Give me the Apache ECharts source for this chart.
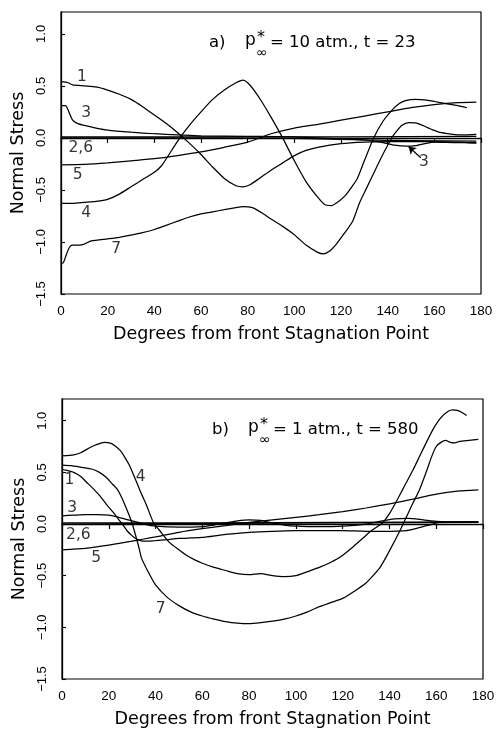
<!DOCTYPE html>
<html>
<head>
<meta charset="utf-8">
<script src="https://cdn.jsdelivr.net/npm/echarts@6/dist/echarts.min.js"></script>
<style>
html,body{margin:0;padding:0;background:#fff;}
#chart{width:502px;height:729px;}
</style>
</head>
<body>
<div id="chart"></div>
<script>
// ---------- Data: panel a) p*∞ = 10 atm., t = 23 ----------
const xTicks = [0, 20, 40, 60, 80, 100, 120, 140, 160, 180];
const yTicks = [-1.5, -1.0, -0.5, 0.0, 0.5, 1.0];

const a1 = [[0,0.54],[3,0.53],[5,0.51],[10,0.5],[15,0.49],[20,0.46],[25,0.42],[30,0.37],[35,0.3],[40,0.22],[45,0.14],[50,0.05],[55,-0.05],[60,-0.16],[65,-0.28],[70,-0.39],[75,-0.46],[78,-0.47],[81,-0.45],[85,-0.39],[90,-0.31],[95,-0.24],[100,-0.17],[105,-0.12],[110,-0.09],[120,-0.055],[130,-0.04],[140,-0.035],[150,-0.035],[160,-0.035],[170,-0.04],[178,-0.05]];
const a2 = [[0,0.01],[60,0.01],[120,0.01],[178,0.015]];
const a3 = [[0,0.31],[2,0.31],[3,0.27],[5,0.17],[7,0.14],[10,0.12],[15,0.095],[20,0.075],[30,0.055],[40,0.04],[50,0.03],[60,0.02],[80,0.015],[100,0.01],[120,-0.01],[130,-0.02],[138,-0.045],[143,-0.07],[148,-0.08],[152,-0.075],[156,-0.055],[160,-0.04],[170,-0.045],[178,-0.045]];
const a4 = [[0,-0.63],[5,-0.63],[10,-0.62],[15,-0.61],[20,-0.59],[25,-0.54],[30,-0.47],[35,-0.4],[40,-0.33],[43,-0.27],[46,-0.17],[50,-0.03],[55,0.12],[60,0.25],[65,0.37],[70,0.46],[75,0.53],[78,0.555],[80,0.53],[83,0.45],[86,0.35],[90,0.2],[95,0.0],[100,-0.22],[105,-0.42],[110,-0.57],[113,-0.64],[116,-0.65],[119,-0.61],[122,-0.55],[124,-0.49],[127,-0.39],[130,-0.22],[134,0.0],[138,0.16],[142,0.27],[145,0.33],[148,0.36],[152,0.37],[156,0.365],[160,0.35],[165,0.33],[170,0.31],[174,0.29]];
const a5 = [[0,-0.26],[10,-0.255],[20,-0.24],[30,-0.22],[40,-0.2],[50,-0.17],[60,-0.135],[70,-0.09],[80,-0.04],[90,0.04],[100,0.095],[110,0.13],[120,0.17],[130,0.21],[140,0.25],[150,0.29],[160,0.32],[170,0.34],[178,0.345]];
const a6 = [[0,0.0],[60,0.0],[100,-0.005],[130,-0.02],[150,-0.025],[178,-0.03]];
const a7 = [[0,-1.21],[1,-1.2],[2,-1.14],[3,-1.08],[4,-1.04],[5,-1.03],[8,-1.03],[10,-1.02],[13,-0.99],[20,-0.97],[25,-0.955],[30,-0.935],[35,-0.91],[40,-0.88],[45,-0.84],[50,-0.8],[55,-0.76],[60,-0.73],[65,-0.71],[70,-0.69],[75,-0.67],[78,-0.66],[82,-0.67],[86,-0.72],[90,-0.78],[95,-0.85],[100,-0.93],[105,-1.03],[110,-1.1],[112.5,-1.115],[115,-1.09],[118,-1.02],[121,-0.93],[125,-0.8],[128,-0.62],[131,-0.48],[134,-0.34],[137,-0.2],[140,-0.07],[142,0.01],[144,0.07],[146,0.12],[149,0.148],[152,0.145],[155,0.12],[159,0.08],[163,0.05],[168,0.035],[172,0.03],[178,0.035]];

// ---------- Data: panel b) p*∞ = 1 atm., t = 580 ----------
const b1 = [[0,0.53],[2,0.52],[5,0.5],[8,0.46],[10.7,0.4],[13,0.35],[16.3,0.27],[19,0.19],[22,0.11],[24,0.05],[26.3,-0.016],[28,-0.07],[29.8,-0.11],[31.5,-0.14],[33.4,-0.16],[36,-0.165],[40,-0.16],[45,-0.15],[50,-0.14],[55,-0.135],[60,-0.13],[70,-0.1],[80,-0.08],[90,-0.07],[100,-0.065],[110,-0.065],[120,-0.065],[130,-0.07],[140,-0.07],[147,-0.065],[152,-0.04],[157,-0.01],[161,0.015],[165,0.02],[170,0.02],[178,0.02]];
const b2 = [[0,0.01],[60,0.012],[120,0.016],[178,0.02]];
const b3 = [[0,0.08],[5,0.085],[10,0.09],[15,0.09],[20,0.085],[25,0.06],[30,0.03],[35,0.0],[40,-0.02],[50,-0.03],[60,-0.025],[65,-0.01],[70,0.01],[75,0.03],[80,0.04],[85,0.035],[90,0.01],[95,-0.01],[100,-0.02],[110,-0.025],[120,-0.02],[130,0.0],[137,0.03],[142,0.05],[148,0.055],[153,0.045],[158,0.03],[165,0.02],[178,0.02]];
const b4 = [[0,0.66],[5,0.67],[8,0.69],[12,0.74],[15,0.77],[18,0.79],[21,0.78],[23,0.75],[25,0.71],[27,0.64],[29,0.56],[32,0.4],[34,0.29],[36,0.19],[39,0.02],[42,-0.07],[46,-0.18],[50,-0.25],[53,-0.3],[57,-0.35],[60,-0.38],[65,-0.42],[70,-0.45],[75,-0.48],[80,-0.49],[85,-0.48],[90,-0.5],[95,-0.51],[100,-0.5],[105,-0.46],[110,-0.42],[115,-0.37],[119,-0.32],[124,-0.23],[128,-0.15],[132,-0.07],[137,0.01],[140,0.1],[143,0.22],[146,0.35],[150,0.52],[153,0.66],[156,0.8],[159,0.93],[162,1.03],[165,1.09],[167,1.105],[169,1.1],[171,1.08],[173,1.05]];
const b5 = [[0,-0.25],[10,-0.235],[20,-0.205],[25,-0.185],[30,-0.165],[35,-0.145],[40,-0.125],[50,-0.08],[60,-0.045],[70,-0.015],[80,0.015],[90,0.04],[100,0.065],[110,0.09],[120,0.12],[130,0.155],[140,0.195],[150,0.24],[160,0.29],[170,0.32],[178,0.33]];
const b6 = [[0,0.0],[60,0.005],[120,0.01],[178,0.015]];
const b7 = [[0,0.57],[4,0.565],[8,0.55],[13,0.53],[16,0.5],[19,0.45],[21,0.4],[23.5,0.34],[25,0.28],[27,0.18],[29.8,0.02],[32.7,-0.21],[34,-0.33],[37,-0.47],[40,-0.59],[45,-0.71],[50,-0.79],[55,-0.85],[60,-0.89],[65,-0.92],[70,-0.945],[75,-0.96],[80,-0.965],[85,-0.955],[90,-0.94],[95,-0.92],[100,-0.89],[105,-0.85],[110,-0.8],[115,-0.76],[120,-0.72],[125,-0.65],[130,-0.57],[133,-0.5],[136,-0.42],[140,-0.26],[145,-0.04],[150,0.2],[153,0.34],[156,0.52],[158,0.65],[160,0.75],[162,0.79],[164,0.81],[166,0.79],[168,0.785],[170,0.8],[174,0.81],[178,0.82]];

// ---------- Curve labels (text, degree, stress) ----------
const labelsA = [['1',9,0.59],['3',10.8,0.24],['2,6',8.5,-0.1],['5',7.1,-0.36],['4',10.8,-0.72],['7',23.7,-1.07],['3',155.5,-0.23]];
const labelsB = [['4',33.6,0.46],['1',3.2,0.43],['3',4.3,0.16],['2,6',7,-0.11],['5',14.6,-0.33],['7',42.2,-0.82]];
const arrowA = [[154.2,-0.19],[149,-0.085]];

const titleA = {lead:'a)', rest:'= 10 atm., t = 23'};
const titleB = {lead:'b)', rest:'= 1 atm., t = 580'};
const xName = 'Degrees from front Stagnation Point';
const yName = 'Normal Stress';

// ---------- Build ----------
const chart = echarts.init(document.getElementById('chart'), null, {renderer:'canvas'});
const INK = '#000';
const tickFont = '"Liberation Sans Narrow","Liberation Sans",sans-serif';
const textFont = '"DejaVu Sans",sans-serif';

function yFmt(v){
  const r = Math.round(v*2)/2;
  if (Math.abs(r - v) > 1e-6) return '';
  return (r < 0 ? '\u2212' : '') + Math.abs(r).toFixed(1);
}

function xAxisDef(gi){
  return {
    type:'value', gridIndex:gi, min:0, max:180, interval:20,
    name:xName, nameLocation:'middle', nameGap:31,
    nameTextStyle:{fontFamily:textFont, fontSize:17.5, color:INK},
    axisLine:{show:true, lineStyle:{color:INK, width:1.3}},
    axisTick:{show:true, inside:false, length:5, lineStyle:{color:INK, width:1.2}},
    axisLabel:{fontFamily:tickFont, fontSize:13.5, color:INK, margin:10},
    splitLine:{show:false}
  };
}
function yAxisDef(gi){
  return {
    type:'value', gridIndex:gi, min:-1.5, max:1.21, interval:0.5,
    name:yName, nameLocation:'middle', nameGap:23,
    nameTextStyle:{fontFamily:textFont, fontSize:17.5, color:INK},
    axisLine:{show:true, onZero:false, lineStyle:{color:INK, width:1.3}},
    axisTick:{show:true, inside:true, length:4, lineStyle:{color:INK, width:1.1}},
    axisLabel:{fontFamily:tickFont, fontSize:13, color:INK, rotate:90, margin:13, formatter:yFmt, showMaxLabel:false},
    splitLine:{show:false}
  };
}
function lineSeries(data, gi, extra){
  return Object.assign({
    type:'line', xAxisIndex:gi, yAxisIndex:gi, data:data,
    showSymbol:false, symbol:'none', smooth:0.2,
    lineStyle:{color:INK, width:1.25}, silent:true, z:3
  }, extra||{});
}
function labelSeries(list, gi){
  return {
    type:'scatter', xAxisIndex:gi, yAxisIndex:gi, symbolSize:1, silent:true,
    itemStyle:{color:'rgba(0,0,0,0)'},
    data:list.map(l => ({name:l[0], value:[l[1], l[2]]})),
    label:{show:true, position:'inside', formatter:p => p.name,
      fontFamily:textFont, fontSize:15.5, color:INK, textBorderWidth:0},
    z:5
  };
}

const series = [
  lineSeries(a1,0), lineSeries(a2,0), lineSeries(a3,0,{
    markLine:{silent:true, symbol:['none','arrow'], symbolSize:7,
      lineStyle:{color:INK, width:1.2, type:'solid'}, label:{show:false},
      data:[[{coord:arrowA[0]},{coord:arrowA[1]}]], animation:false}
  }), lineSeries(a4,0), lineSeries(a5,0), lineSeries(a6,0), lineSeries(a7,0),
  lineSeries(b1,1), lineSeries(b2,1), lineSeries(b3,1), lineSeries(b4,1), lineSeries(b5,1), lineSeries(b6,1), lineSeries(b7,1),
  labelSeries(labelsA,0), labelSeries(labelsB,1)
];

function titleGraphics(t, x0, yc){
  const f = textFont;
  return [
    {type:'text', left:x0, top:yc-10, style:{text:t.lead, font:'16.5px '+f, fill:INK}},
    {type:'text', left:x0+36, top:yc-12, style:{text:'p', font:'17px '+f, fill:INK}},
    {type:'text', left:x0+48, top:yc-14, style:{text:'*', font:'16px '+f, fill:INK}},
    {type:'text', left:x0+47, top:yc+2, style:{text:'\u221e', font:'14px '+f, fill:INK}},
    {type:'text', left:x0+61, top:yc-10, style:{text:t.rest, font:'16.5px '+f, fill:INK}}
  ];
}

const option = {
  animation:false,
  backgroundColor:'#fff',
  grid:[
    {left:61, top:12, width:420, height:282, show:true, borderColor:INK, borderWidth:1.2, backgroundColor:'transparent'},
    {left:62, top:399, width:421, height:282, show:true, borderColor:INK, borderWidth:1.2, backgroundColor:'transparent'}
  ],
  xAxis:[xAxisDef(0), xAxisDef(1)],
  yAxis:[yAxisDef(0), yAxisDef(1)],
  series:series,
  graphic:[].concat(titleGraphics(titleA, 209, 44), titleGraphics(titleB, 212, 431))
};
chart.setOption(option);
</script>
</body>
</html>
